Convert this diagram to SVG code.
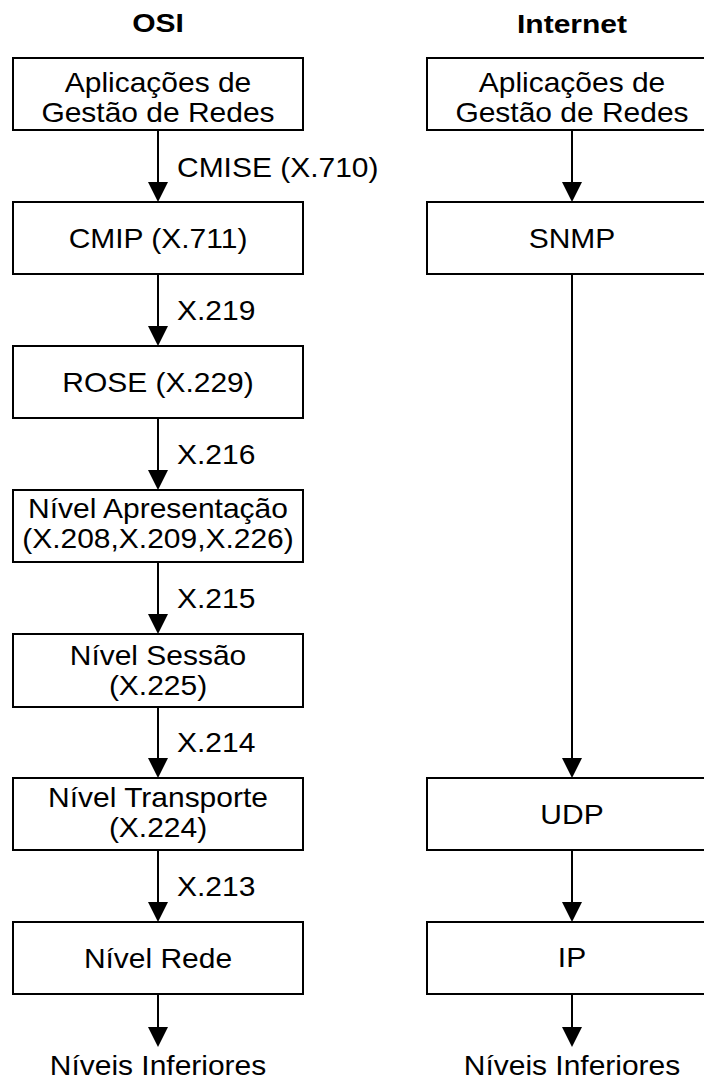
<svg xmlns="http://www.w3.org/2000/svg" width="704" height="1081" viewBox="0 0 704 1081">
<style>
.box{fill:#fff;stroke:#000;stroke-width:2}
.t{font-family:"Liberation Sans",Arial,sans-serif;font-size:27px;fill:#000}
.c{text-anchor:middle}
.h{font-family:"Liberation Sans",Arial,sans-serif;font-size:25px;font-weight:bold;text-anchor:middle;fill:#000}
.ln{stroke:#000;stroke-width:2;fill:none}
</style>
<defs>
<marker id="ah" markerUnits="userSpaceOnUse" markerWidth="20" markerHeight="20" refX="10" refY="10" orient="auto" overflow="visible">
<path d="M0,0 L20,10 L0,20 Z" fill="#000"/>
</marker>
</defs>
<rect width="704" height="1081" fill="#fff"/>
<g id="titles">
<text class="h" transform="translate(158,32) scale(1.2,1)">OSI</text>
<text class="h" transform="translate(572,33) scale(1.2,1)">Internet</text>
</g>
<g id="connectors">
<line class="ln" x1="158" y1="130" x2="158" y2="192" marker-end="url(#ah)"/>
<line class="ln" x1="158" y1="274" x2="158" y2="336" marker-end="url(#ah)"/>
<line class="ln" x1="158" y1="418" x2="158" y2="480" marker-end="url(#ah)"/>
<line class="ln" x1="158" y1="562" x2="158" y2="624" marker-end="url(#ah)"/>
<line class="ln" x1="158" y1="707" x2="158" y2="768" marker-end="url(#ah)"/>
<line class="ln" x1="158" y1="850" x2="158" y2="912" marker-end="url(#ah)"/>
<line class="ln" x1="158" y1="994" x2="158" y2="1037" marker-end="url(#ah)"/>
<line class="ln" x1="572" y1="130" x2="572" y2="192" marker-end="url(#ah)"/>
<line class="ln" x1="572" y1="274" x2="572" y2="768" marker-end="url(#ah)"/>
<line class="ln" x1="572" y1="850" x2="572" y2="912" marker-end="url(#ah)"/>
<line class="ln" x1="572" y1="994" x2="572" y2="1037" marker-end="url(#ah)"/>
<g class="t">
<text transform="translate(177,177) scale(1.11,1)">CMISE (X.710)</text>
<text transform="translate(177,320) scale(1.11,1)">X.219</text>
<text transform="translate(177,464) scale(1.11,1)">X.216</text>
<text transform="translate(177,608) scale(1.11,1)">X.215</text>
<text transform="translate(177,752) scale(1.11,1)">X.214</text>
<text transform="translate(177,896) scale(1.11,1)">X.213</text>
</g>
</g>
<g id="osi-app">
<rect class="box" x="13" y="58" width="290" height="72"/>
<text class="t c" transform="translate(158,92) scale(1.11,1)">Aplicações de</text>
<text class="t c" transform="translate(158,122) scale(1.11,1)">Gestão de Redes</text>
</g>
<g id="cmip">
<rect class="box" x="13" y="202" width="290" height="72"/>
<text class="t c" transform="translate(158,248) scale(1.11,1)">CMIP (X.711)</text>
</g>
<g id="rose">
<rect class="box" x="13" y="346" width="290" height="72"/>
<text class="t c" transform="translate(158,392) scale(1.11,1)">ROSE (X.229)</text>
</g>
<g id="apresentacao">
<rect class="box" x="13" y="490" width="290" height="72"/>
<text class="t c" transform="translate(158,517.5) scale(1.11,1)">Nível Apresentação</text>
<text class="t c" transform="translate(158,548) scale(1.11,1)">(X.208,X.209,X.226)</text>
</g>
<g id="sessao">
<rect class="box" x="13" y="634" width="290" height="73"/>
<text class="t c" transform="translate(158,665) scale(1.11,1)">Nível Sessão</text>
<text class="t c" transform="translate(158,695) scale(1.11,1)">(X.225)</text>
</g>
<g id="transporte">
<rect class="box" x="13" y="778" width="290" height="72"/>
<text class="t c" transform="translate(158,807) scale(1.11,1)">Nível Transporte</text>
<text class="t c" transform="translate(158,837) scale(1.11,1)">(X.224)</text>
</g>
<g id="rede">
<rect class="box" x="13" y="922" width="290" height="72"/>
<text class="t c" transform="translate(158,968) scale(1.11,1)">Nível Rede</text>
</g>
<g id="osi-inferiores">
<text class="t c" transform="translate(158,1075) scale(1.11,1)">Níveis Inferiores</text>
</g>
<g id="inet-app">
<rect class="box" x="427" y="58" width="290" height="72"/>
<text class="t c" transform="translate(572,92) scale(1.11,1)">Aplicações de</text>
<text class="t c" transform="translate(572,122) scale(1.11,1)">Gestão de Redes</text>
</g>
<g id="snmp">
<rect class="box" x="427" y="202" width="290" height="72"/>
<text class="t c" transform="translate(572,248) scale(1.11,1)">SNMP</text>
</g>
<g id="udp">
<rect class="box" x="427" y="778" width="290" height="72"/>
<text class="t c" transform="translate(572,823.5) scale(1.11,1)">UDP</text>
</g>
<g id="ip">
<rect class="box" x="427" y="922" width="290" height="72"/>
<text class="t c" transform="translate(572,967) scale(1.11,1)">IP</text>
</g>
<g id="inet-inferiores">
<text class="t c" transform="translate(572,1075) scale(1.11,1)">Níveis Inferiores</text>
</g>
</svg>
